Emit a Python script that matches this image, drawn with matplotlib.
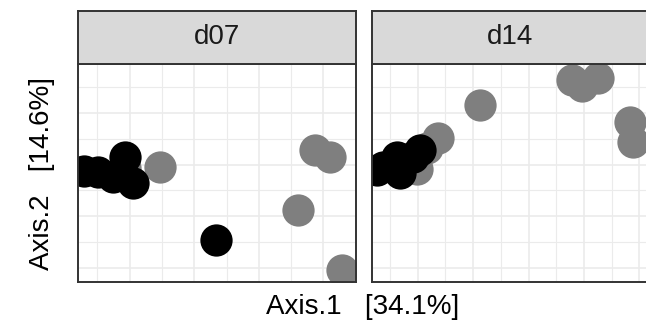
import matplotlib
matplotlib.use("Agg")
import matplotlib.pyplot as plt

plt.rcParams['font.family'] = ['Liberation Sans', 'DejaVu Sans']

# ordination coordinates (Axis.1, Axis.2)
d07_black_x = [-0.341, -0.298, -0.251, -0.189, -0.214, 0.067]
d07_black_y = [-0.024, -0.028, -0.048, -0.071, 0.030, -0.292]
d07_gray_x = [-0.214, -0.106, 0.374, 0.420, 0.321, 0.457]
d07_gray_y = [-0.013, -0.009, 0.057, 0.030, -0.176, -0.408]

d14_black_x = [-0.347, -0.325, -0.275, -0.264, -0.217, -0.192]
d14_black_y = [-0.021, -0.009, 0.030, -0.032, 0.030, 0.057]
d14_gray_x = [-0.203, -0.166, -0.127, 0.025, 0.357, 0.393, 0.451, 0.566, 0.577]
d14_gray_y = [-0.018, 0.065, 0.103, 0.231, 0.328, 0.305, 0.336, 0.166, 0.088]

panels = ["d07", "d14"]
xlab = "Axis.1   [34.1%]"
ylab = "Axis.2   [14.6%]"

W, H = 646, 326
fig = plt.figure(figsize=(W / 100, H / 100), dpi=100)

def px(x0, y0, x1, y1):
    return [x0 / W, 1 - y1 / H, (x1 - x0) / W, (y1 - y0) / H]

data = {
    "d07": (d07_gray_x, d07_gray_y, d07_black_x, d07_black_y, (-0.36, 0.501),
            [-0.3 + 0.1 * k for k in range(8)]),
    "d14": (d14_gray_x, d14_gray_y, d14_black_x, d14_black_y, (-0.365, 0.635),
            [-0.3 + 0.1 * k for k in range(10)]),
}
boxes = {"d07": (78, 356), "d14": (372, 649)}
yl = (-0.455, 0.39)
ygrid = [0.3 - 0.1 * k for k in range(8)]

for name in panels:
    gx, gy, bx, by, xl, xgrid = data[name]
    x0, x1 = boxes[name]
    ax = fig.add_axes(px(x0, 64, x1, 282))
    for i, v in enumerate(xgrid):
        ax.axvline(v, color="#EBEBEB", lw=1.2 if i % 2 else 0.8, zorder=0)
    for i, v in enumerate(ygrid):
        ax.axhline(v, color="#EBEBEB", lw=1.2 if i % 2 else 0.8, zorder=0)
    ax.scatter(gx, gy, s=540, color="#7F7F7F", linewidths=0, zorder=2)
    ax.scatter(bx, by, s=540, color="black", linewidths=0, zorder=3)
    ax.set_xlim(*xl)
    ax.set_ylim(*yl)
    ax.set_xticks([])
    ax.set_yticks([])
    for s in ax.spines.values():
        s.set_color("#333333")
        s.set_linewidth(1.4)
        s.set_zorder(5)

    sax = fig.add_axes(px(x0, 11, x1, 64))
    sax.set_facecolor("#D9D9D9")
    sax.set_xticks([])
    sax.set_yticks([])
    for s in sax.spines.values():
        s.set_color("#333333")
        s.set_linewidth(1.4)
    sax.text(0.5, 0.5, name, ha="center", va="center", fontsize=20,
             color="#1A1A1A", transform=sax.transAxes)

fig.text(363 / W, 1 - 307 / H, xlab, ha="center", va="center", fontsize=20)
fig.text(42 / W, 1 - 173 / H, ylab, ha="center", va="center", fontsize=20,
         rotation=90)

fig.savefig("out.png", dpi=100)
